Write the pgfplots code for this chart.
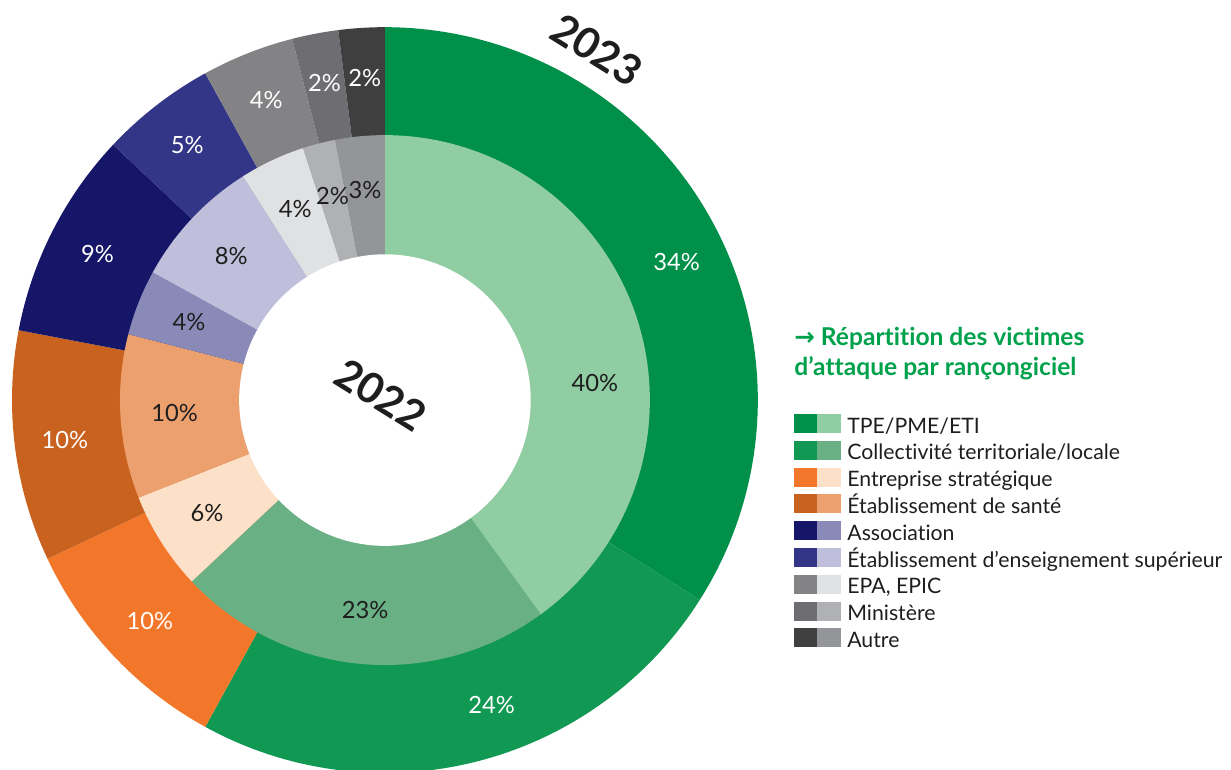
\documentclass[border=0pt]{standalone}
\usepackage{pgfplots}
\pgfplotsset{compat=1.18}
\usepackage{pgfplotstable}
\usepackage{fontspec}
\setmainfont{Lato}[Ligatures=NoCommon]
\newfontfamily\arrowfont{DejaVu Sans}

% outer ring (2023) and inner ring (2022) colours
\definecolor{o0}{HTML}{00904A}
\definecolor{o1}{HTML}{119853}
\definecolor{o2}{HTML}{F3772A}
\definecolor{o3}{HTML}{C8621E}
\definecolor{o4}{HTML}{161669}
\definecolor{o5}{HTML}{333686}
\definecolor{o6}{HTML}{838386}
\definecolor{o7}{HTML}{6E6E72}
\definecolor{o8}{HTML}{3F3F40}
\definecolor{i0}{HTML}{90CDA2}
\definecolor{i1}{HTML}{6AB085}
\definecolor{i2}{HTML}{FDE0C8}
\definecolor{i3}{HTML}{ECA06E}
\definecolor{i4}{HTML}{8A8AB8}
\definecolor{i5}{HTML}{BFBFDC}
\definecolor{i6}{HTML}{E0E1E3}
\definecolor{i7}{HTML}{B0B1B4}
\definecolor{i8}{HTML}{949598}
\definecolor{txt}{HTML}{1E1E1E}
\definecolor{titlegreen}{HTML}{00A14B}

% share of victims (%), 2023 outer ring, 2022 inner ring;
% so/si: small angle shift (deg) of the value label
\pgfplotstableread{
row y2023 y2022 so   si
0   34    40    -3.5 -13.4
1   24    23    4.9  0
2   10    6     0    0
3   10    10    0    0
4   9     4     0    0
5   5     8     0    0
6   4     4     0    0
7   2     2     0    0
8   2     3     0    0
}\victims

\tikzset{pct/.style={font=\fontsize{13.5}{15}\selectfont, inner sep=0pt}}

\begin{document}
\begin{tikzpicture}[x=0.02cm, y=0.02cm]
\useasboundingbox (0,0) rectangle (1231,769);
\begin{axis}[
    at={(0,0)}, anchor=south west,
    scale only axis, width=24.62cm, height=15.38cm,
    xmin=-1.0322, xmax=2.2681, ymin=-0.9893, ymax=1.0724,
    hide axis,
]
\def\Ro{1}
\def\Ri{0.7105}
\def\Rh{0.391}
% outer ring wedges
\def\cum{0}
\pgfplotsforeachungrouped \i in {0,...,8}{%
    \pgfplotstablegetelem{\i}{y2023}\of\victims
    \let\v\pgfplotsretval
    \pgfmathsetmacro\aA{90-3.6*\cum}
    \pgfmathsetmacro\aB{90-3.6*(\cum+\v)}
    \edef\temp{\noexpand\addplot[draw=none, fill=o\i, domain=\aB:\aA, samples=90]
        ({\Ro*cos(x)},{\Ro*sin(x)}) -- (axis cs:0,0) -- cycle;}
    \temp
    \pgfmathsetmacro\cum{\cum+\v}
}
% inner ring wedges
\def\cum{0}
\pgfplotsforeachungrouped \i in {0,...,8}{%
    \pgfplotstablegetelem{\i}{y2022}\of\victims
    \let\v\pgfplotsretval
    \pgfmathsetmacro\aA{90-3.6*\cum}
    \pgfmathsetmacro\aB{90-3.6*(\cum+\v)}
    \edef\temp{\noexpand\addplot[draw=none, fill=i\i, domain=\aB:\aA, samples=90]
        ({\Ri*cos(x)},{\Ri*sin(x)}) -- (axis cs:0,0) -- cycle;}
    \temp
    \pgfmathsetmacro\cum{\cum+\v}
}
% hole
\addplot[draw=none, fill=white, domain=0:360, samples=120]
    ({\Rh*cos(x)},{\Rh*sin(x)}) -- cycle;
% value labels
\def\cum{0}
\pgfplotsforeachungrouped \i in {0,...,8}{%
    \pgfplotstablegetelem{\i}{y2023}\of\victims
    \let\v\pgfplotsretval
    \pgfplotstablegetelem{\i}{so}\of\victims
    \let\s\pgfplotsretval
    \pgfmathsetmacro\am{90-3.6*(\cum+\v/2)+\s}
    \pgfmathsetmacro\lx{0.865*cos(\am)}
    \pgfmathsetmacro\ly{0.865*sin(\am)}
    \edef\temp{\noexpand\node[pct, text=white] at (axis cs:\lx,\ly) {\v\noexpand\%};}
    \temp
    \pgfmathsetmacro\cum{\cum+\v}
}
\def\cum{0}
\pgfplotsforeachungrouped \i in {0,...,8}{%
    \pgfplotstablegetelem{\i}{y2022}\of\victims
    \let\v\pgfplotsretval
    \pgfplotstablegetelem{\i}{si}\of\victims
    \let\s\pgfplotsretval
    \pgfmathsetmacro\am{90-3.6*(\cum+\v/2)+\s}
    \pgfmathsetmacro\lx{0.565*cos(\am)}
    \pgfmathsetmacro\ly{0.565*sin(\am)}
    \edef\temp{\noexpand\node[pct, text=txt] at (axis cs:\lx,\ly) {\v\noexpand\%};}
    \temp
    \pgfmathsetmacro\cum{\cum+\v}
}
\end{axis}

% year labels
\node[rotate=-32, font=\bfseries\fontsize{24}{26}\selectfont, text=txt] at (597,719) {2023};
\node[rotate=-32, font=\bfseries\fontsize{24}{26}\selectfont, text=txt] at (381,374) {2022};

% title
\node[anchor=base west, inner sep=0pt, text=titlegreen, font=\bfseries\fontsize{14}{16}\selectfont]
    at (794,424) {{\arrowfont\bfseries →} Répartition des victimes};
\node[anchor=base west, inner sep=0pt, text=titlegreen, font=\bfseries\fontsize{14}{16}\selectfont]
    at (794,394) {d’attaque par rançongiciel};

% legend
\newcommand{\legrow}[2]{%
    \fill[o#1] (794,{355-26.8*#1}) rectangle (817,{336-26.8*#1});
    \fill[i#1] (817,{355-26.8*#1}) rectangle (841,{336-26.8*#1});
    \node[anchor=base west, inner sep=0pt, text=txt, font=\fontsize{12.1}{14}\selectfont]
        at (847,{336-26.8*#1}) {#2};
}
\legrow{0}{TPE/PME/ETI}
\legrow{1}{Collectivité territoriale/locale}
\legrow{2}{Entreprise stratégique}
\legrow{3}{Établissement de santé}
\legrow{4}{Association}
\legrow{5}{Établissement d’enseignement supérieur}
\legrow{6}{EPA, EPIC}
\legrow{7}{Ministère}
\legrow{8}{Autre}
\end{tikzpicture}
\end{document}
